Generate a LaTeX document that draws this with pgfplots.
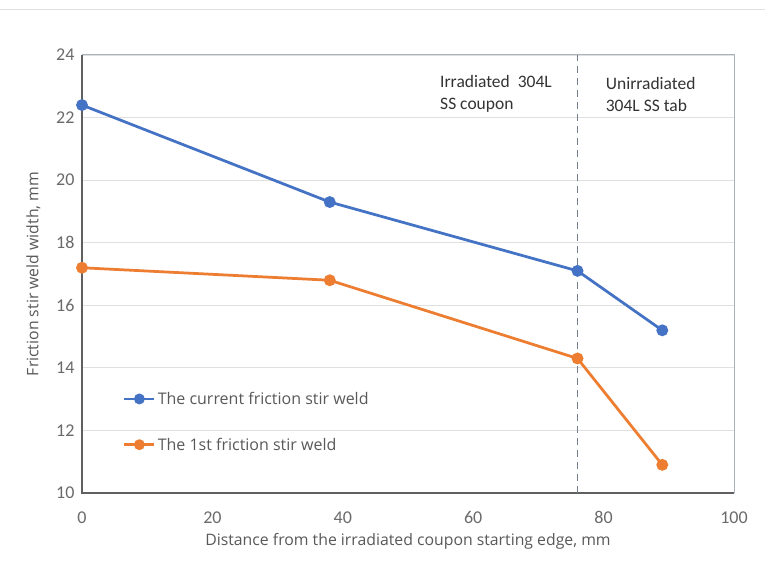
\documentclass[border=0pt]{standalone}
\usepackage{pgfplots}
\pgfplotsset{compat=1.18}
\usepackage{fontspec}
\setmainfont{Carlito}
\newfontfamily\osfont{Open Sans}
\definecolor{xlblue}{HTML}{4472C4}
\definecolor{xlorange}{HTML}{ED7D31}
\definecolor{txtgray}{HTML}{595959}
\definecolor{gridgray}{HTML}{E0E0E0}
\definecolor{dashc}{HTML}{44546A}
\begin{document}
\begin{tikzpicture}[x=1pt,y=1pt]
\useasboundingbox[fill=white] (0,0) rectangle (765,563);
\draw[color=gridgray,line width=1pt] (0,553) -- (765,553);
\begin{axis}[
  at={(82pt,70pt)}, anchor=south west,
  scale only axis, width=652pt, height=438pt,
  xmin=0, xmax=100, ymin=10, ymax=24,
  xtick={0,20,...,100}, ytick={10,12,...,24},
  major tick length=0pt,
  ymajorgrids, grid style={gridgray, line width=0.8pt},
  axis line style={draw=none},
  /pgf/number format/assume math mode=true,
  tick label style={font=\fontsize{18}{20}\selectfont, text=txtgray!90},
  xticklabel style={yshift=-15pt},
  yticklabel style={xshift=-4pt},
  xlabel={Distance from the irradiated coupon starting edge, mm},
  ylabel={Friction stir weld width, mm},
  label style={font=\osfont\fontsize{15.8}{18}\selectfont, text=txtgray},
  xlabel style={yshift=-3pt},
  ylabel style={yshift=9pt},
  legend style={at={(0.058,0.240)}, anchor=north west, draw=none, fill=none,
    font=\osfont\fontsize{16}{19}\selectfont, text=txtgray, row sep=28pt},
  legend cell align=left,
  legend image code/.code={\draw[mark repeat=2,mark phase=2,#1,mark size=4pt] plot coordinates {(0pt,0pt) (15pt,0pt) (30pt,0pt)};},
  clip=false,
]
\draw[color=gray!75!black, line width=1.2pt] (rel axis cs:0,1) -- (rel axis cs:0,0) -- (rel axis cs:1,0);
\draw[color=dashc!45, line width=1pt] (rel axis cs:0,1) -- (rel axis cs:1,1) -- (rel axis cs:1,0);
\addplot[color=xlblue, line width=2.75pt, mark=*, mark size=4.5pt] coordinates {(0,22.4) (38,19.3) (76,17.1) (89,15.2)};
\addlegendentry{The current friction stir weld}
\addplot[color=xlorange, line width=2.75pt, mark=*, mark size=4.5pt] coordinates {(0,17.2) (38,16.8) (76,14.3) (89,10.9)};
\addlegendentry{The 1st friction stir weld}
\addplot[color=dashc!75, line width=1.5pt, dash pattern=on 7pt off 5pt, forget plot] coordinates {(76,10) (76,24)};
\node[anchor=west, align=left, font=\fontsize{17.5}{22}\selectfont, text=black!80] at (axis cs:54.4,22.75) {Irradiated\ \ 304L\\SS coupon};
\node[anchor=west, align=left, font=\fontsize{17.5}{22}\selectfont, text=black!80] at (axis cs:79.8,22.75) {Unirradiated\\304L SS tab};
\end{axis}
\end{tikzpicture}
\end{document}
